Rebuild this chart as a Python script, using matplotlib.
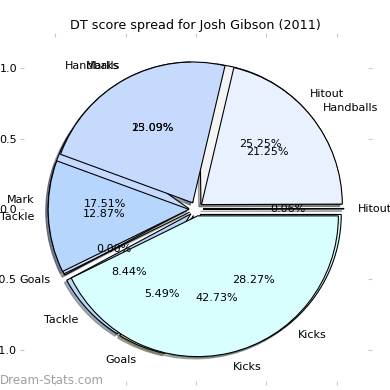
import matplotlib
matplotlib.use("Agg")
import matplotlib.pyplot as plt

# earlier season spread (drawn underneath)
labels_a = ["Hitout", "Handballs", "Mark", "Tackle", "Goals", "Kicks"]
values_a = [25.25, 15.09, 17.51, 8.44, 5.49, 28.27]

# 2011 spread (drawn on top)
labels_b = ["Hitout", "Handballs", "Marks", "Tackle", "Goals", "Kicks"]
values_b = [0.06, 21.25, 23.09, 12.87, 0.00, 42.73]

colors = ["#f4f4f4", "#eaf1fe", "#c6dafe", "#b7d6fd", "#dce88c", "#d8fefe"]
title = "DT score spread for Josh Gibson (2011)"
ticks = [-1.0, -0.5, 0.0, 0.5, 1.0]


def _pct_fmt(vals):
    total = sum(vals)
    return lambda p: f"{p * total / 100.0:.2f}%"


fig = plt.figure(figsize=(3.9, 3.9), dpi=100)
ax = fig.add_axes([20 / 390, 5 / 390, 352 / 390, 352 / 390])

for vals, labs in ((values_a, labels_a), (values_b, labels_b)):
    ax.pie(
        vals,
        labels=labs,
        colors=colors,
        explode=[0.05] * len(vals),
        autopct=_pct_fmt(vals),
        shadow=dict(ox=-0.012, oy=-0.012, shade=0.6),
        frame=True,
        wedgeprops=dict(edgecolor="black", linewidth=0.8),
        textprops=dict(fontsize=8),
    )

ax.set_xlim(-1.25, 1.25)
ax.set_ylim(-1.25, 1.25)
ax.set_xticks(ticks)
ax.set_yticks(ticks)
ax.tick_params(direction="in", length=3, color="#c8c8c8", labelsize=8, pad=2,
               top=True, right=True)
ax.tick_params(axis="x", pad=4)
for spine in ax.spines.values():
    spine.set_visible(False)

fig.text(0.5, 0.935, title, ha="center", va="center", fontsize=9.2)
fig.text(0.0, 0.025, "Dream-Stats.com", ha="left", va="center", fontsize=8.6,
         color="#a0a0a0")

fig.savefig("out.png", dpi=100)
